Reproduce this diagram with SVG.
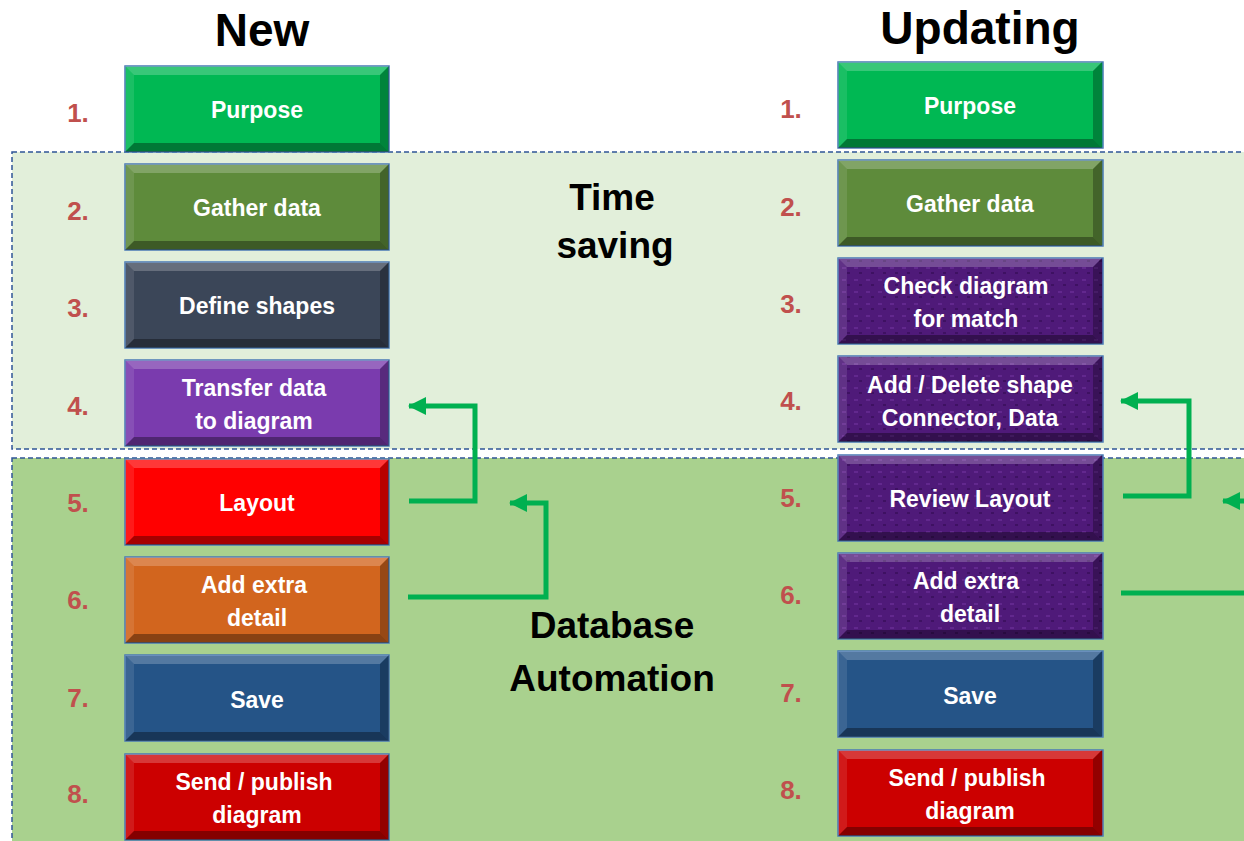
<svg xmlns="http://www.w3.org/2000/svg" xmlns:xlink="http://www.w3.org/1999/xlink" width="1244" height="841" viewBox="0 0 1244 841">
<style>
.title{font-family:"Liberation Sans",Arial,sans-serif;font-weight:bold;font-size:46px;fill:#000;text-anchor:middle}
.band{font-family:"Liberation Sans",Arial,sans-serif;font-weight:bold;font-size:37px;fill:#000;text-anchor:middle}
.num{font-family:"Liberation Sans",Arial,sans-serif;font-weight:bold;font-size:26px;fill:#c0504d;text-anchor:middle}
.lbl{font-family:"Liberation Sans",Arial,sans-serif;font-weight:bold;font-size:23px;fill:#fff;text-anchor:middle}
.box{stroke:#4a7ab5;stroke-width:1.5}
.conn{fill:none;stroke:#00b050;stroke-width:5}
</style>
<defs>
<g id="bevel">
<polygon points="0,0 264,0 255,9 9,9" fill="#fff" opacity="0.22"/>
<polygon points="0,0 9,9 9,77 0,86" fill="#fff" opacity="0.1"/>
<polygon points="264,0 255,9 255,77 264,86" fill="#000" opacity="0.28"/>
<polygon points="0,86 9,77 255,77 264,86" fill="#000" opacity="0.35"/>
</g>
<marker id="ah" markerUnits="userSpaceOnUse" markerWidth="20" markerHeight="20" viewBox="0 0 18 20" refX="17" refY="10" orient="auto">
<path d="M0,1 L18,10 L0,19 Z" fill="#00b050"/>
</marker>
<pattern id="tex" width="12" height="12" patternUnits="userSpaceOnUse">
<rect width="12" height="12" fill="#4f1a79"/>
<rect x="2" y="3" width="4" height="2" fill="#6a2d98" opacity="0.7"/>
<rect x="7" y="8" width="3" height="2" fill="#3a0f5c" opacity="0.8"/>
</pattern>
</defs>
<rect width="1244" height="841" fill="#fff"/>
<g id="band-time">
<rect x="12" y="152" width="1240" height="297" fill="#e2efda" stroke="#2f5597" stroke-width="1.5" stroke-dasharray="5,3"/>
</g>
<g id="band-db">
<rect x="12" y="458" width="1240" height="390" fill="#a9d18e" stroke="#2f5597" stroke-width="1.5" stroke-dasharray="5,3"/>
</g>
<text class="title" x="262" y="46">New</text>
<text class="title" x="980" y="44">Updating</text>
<text class="band" x="612" y="210">Time</text>
<text class="band" x="615" y="258">saving</text>
<text class="band" x="612" y="638">Database</text>
<text class="band" x="612" y="691">Automation</text>

<g id="nums-left">
<text class="num" x="78" y="122">1.</text>
<text class="num" x="78" y="220">2.</text>
<text class="num" x="78" y="317">3.</text>
<text class="num" x="78" y="415">4.</text>
<text class="num" x="78" y="512">5.</text>
<text class="num" x="78" y="609">6.</text>
<text class="num" x="78" y="707">7.</text>
<text class="num" x="78" y="803">8.</text>
</g>
<g id="nums-right">
<text class="num" x="791" y="118">1.</text>
<text class="num" x="791" y="216">2.</text>
<text class="num" x="791" y="313">3.</text>
<text class="num" x="791" y="410">4.</text>
<text class="num" x="791" y="507">5.</text>
<text class="num" x="791" y="604">6.</text>
<text class="num" x="791" y="702">7.</text>
<text class="num" x="791" y="799">8.</text>
</g>

<g id="n-purpose">
<rect class="box" x="125" y="66" width="264" height="86" fill="#00b853"/>
<use xlink:href="#bevel" x="125" y="66"/>
<text class="lbl" x="257" y="118">Purpose</text>
</g>
<g id="n-gather">
<rect class="box" x="125" y="164" width="264" height="86" fill="#5e8b3b"/>
<use xlink:href="#bevel" x="125" y="164"/>
<text class="lbl" x="257" y="216">Gather data</text>
</g>
<g id="n-define">
<rect class="box" x="125" y="262" width="264" height="86" fill="#3b4658"/>
<use xlink:href="#bevel" x="125" y="262"/>
<text class="lbl" x="257" y="314">Define shapes</text>
</g>
<g id="n-transfer">
<rect class="box" x="125" y="360" width="264" height="86" fill="#7a3bae"/>
<use xlink:href="#bevel" x="125" y="360"/>
<text class="lbl" x="254" y="396">Transfer data</text>
<text class="lbl" x="254" y="429">to diagram</text>
</g>
<g id="n-layout">
<rect class="box" x="125" y="459" width="264" height="86" fill="#ff0000"/>
<use xlink:href="#bevel" x="125" y="459"/>
<text class="lbl" x="257" y="511">Layout</text>
</g>
<g id="n-extra">
<rect class="box" x="125" y="557" width="264" height="86" fill="#d2651e"/>
<use xlink:href="#bevel" x="125" y="557"/>
<text class="lbl" x="254" y="593">Add extra</text>
<text class="lbl" x="257" y="626">detail</text>
</g>
<g id="n-save">
<rect class="box" x="125" y="655" width="264" height="86" fill="#255487"/>
<use xlink:href="#bevel" x="125" y="655"/>
<text class="lbl" x="257" y="708">Save</text>
</g>
<g id="n-send">
<rect class="box" x="125" y="754" width="264" height="86" fill="#cc0000"/>
<use xlink:href="#bevel" x="125" y="754"/>
<text class="lbl" x="254" y="790">Send / publish</text>
<text class="lbl" x="257" y="823">diagram</text>
</g>

<g id="u-purpose">
<rect class="box" x="838" y="62" width="265" height="86" fill="#00b853"/>
<use xlink:href="#bevel" x="838" y="62"/>
<text class="lbl" x="970" y="114">Purpose</text>
</g>
<g id="u-gather">
<rect class="box" x="838" y="160" width="265" height="86" fill="#5e8b3b"/>
<use xlink:href="#bevel" x="838" y="160"/>
<text class="lbl" x="970" y="212">Gather data</text>
</g>
<g id="u-check">
<rect class="box" x="838" y="258" width="265" height="86" fill="url(#tex)"/>
<use xlink:href="#bevel" x="838" y="258"/>
<text class="lbl" x="966" y="294">Check diagram</text>
<text class="lbl" x="966" y="327">for match</text>
</g>
<g id="u-adddel">
<rect class="box" x="838" y="356" width="265" height="86" fill="url(#tex)"/>
<use xlink:href="#bevel" x="838" y="356"/>
<text class="lbl" x="970" y="393">Add / Delete shape</text>
<text class="lbl" x="970" y="426">Connector, Data</text>
</g>
<g id="u-review">
<rect class="box" x="838" y="455" width="265" height="86" fill="url(#tex)"/>
<use xlink:href="#bevel" x="838" y="455"/>
<text class="lbl" x="970" y="507">Review Layout</text>
</g>
<g id="u-extra">
<rect class="box" x="838" y="553" width="265" height="86" fill="url(#tex)"/>
<use xlink:href="#bevel" x="838" y="553"/>
<text class="lbl" x="966" y="589">Add extra</text>
<text class="lbl" x="970" y="622">detail</text>
</g>
<g id="u-save">
<rect class="box" x="838" y="651" width="265" height="86" fill="#255487"/>
<use xlink:href="#bevel" x="838" y="651"/>
<text class="lbl" x="970" y="704">Save</text>
</g>
<g id="u-send">
<rect class="box" x="838" y="750" width="265" height="86" fill="#cc0000"/>
<use xlink:href="#bevel" x="838" y="750"/>
<text class="lbl" x="967" y="786">Send / publish</text>
<text class="lbl" x="970" y="819">diagram</text>
</g>

<g id="connectors">
<path class="conn" d="M409,501 H475 V406 H409" marker-end="url(#ah)"/>
<path class="conn" d="M408,597 H546 V503 H510" marker-end="url(#ah)"/>
<path class="conn" d="M1123,496 H1189 V401 H1121" marker-end="url(#ah)"/>
<path class="conn" d="M1250,501 H1223" marker-end="url(#ah)"/>
<path class="conn" d="M1121,593 H1250"/>
</g>
</svg>
